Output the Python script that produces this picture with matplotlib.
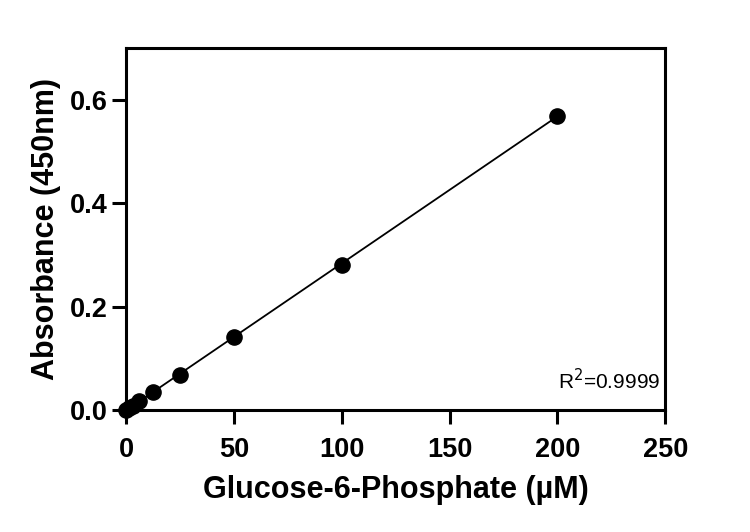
import numpy as np
import matplotlib.pyplot as plt

plt.rcParams['font.family'] = ['Liberation Sans', 'DejaVu Sans']

conc = [0, 1.5625, 3.125, 6.25, 12.5, 25, 50, 100, 200]
absorb = [0.0, 0.0045, 0.009, 0.018, 0.035, 0.068, 0.142, 0.281, 0.569]
r2_text = 'R$^2$=0.9999'

fig = plt.figure(figsize=(7.5, 5.32), dpi=100)
ax = fig.add_axes([0.168, 0.229, 0.719, 0.681])

# linear fit line
k, b = np.polyfit(conc, absorb, 1)
xs = np.array([0, 200])
ax.plot(xs, k * xs + b, color='black', lw=1.3, zorder=2)
ax.scatter(conc, absorb, s=120, color='black', zorder=3, clip_on=False)

ax.set_xlim(0, 250)
ax.set_ylim(0, 0.7)
ax.set_xticks([0, 50, 100, 150, 200, 250])
ax.set_yticks([0.0, 0.2, 0.4, 0.6])
ax.set_yticklabels(['0.0', '0.2', '0.4', '0.6'])

for s in ax.spines.values():
    s.set_linewidth(2.2)
    s.set_color('black')
ax.tick_params(axis='both', which='major', direction='out', bottom=True, left=True,
               width=2.2, length=10, color='black', labelsize=19.5)
ax.tick_params(axis='x', pad=9)
ax.tick_params(axis='y', pad=3)
for lab in ax.get_xticklabels() + ax.get_yticklabels():
    lab.set_fontweight('bold')

ax.set_xlabel('Glucose-6-Phosphate (µM)', fontsize=22, fontweight='bold', labelpad=9)
ax.set_ylabel('Absorbance (450nm)', fontsize=22, fontweight='bold', labelpad=6.5)
ax.text(0.896, 0.083, r2_text, transform=ax.transAxes, ha='center', va='center', fontsize=15)

fig.savefig('out.png', dpi=100)
